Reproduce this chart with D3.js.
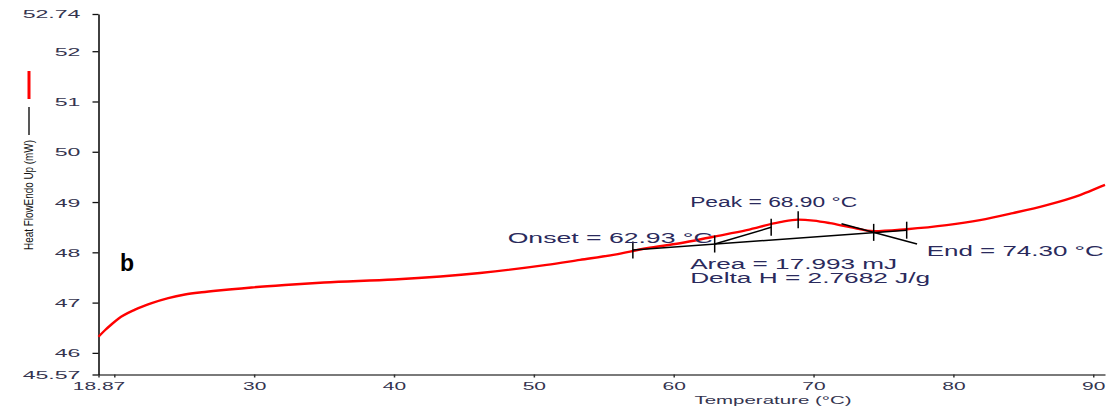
<!DOCTYPE html>
<html>
<head>
<meta charset="utf-8">
<script src="https://cdn.jsdelivr.net/npm/d3@7/dist/d3.min.js"></script>
<style>
  html, body { margin: 0; padding: 0; background: #fff; }
  svg { display: block; font-family: "Liberation Sans", Arial, sans-serif; }
</style>
</head>
<body>
<svg id="chart" width="1110" height="410"></svg>
<script>
// ---------- data ----------
const temperature = [18.87, 19.33, 19.81, 20.29, 21.48, 22.67, 23.86, 25.05, 26.25, 27.44, 28.63, 29.82, 32.2, 35.0, 40.0, 46.15, 50.92, 53.3, 55.68, 58.07, 60.45, 62.83, 65.22, 67.6, 68.9, 70.0, 71.17, 72.6, 74.32, 76.66, 79.52, 81.9, 84.26, 86.67, 89.05, 90.48, 90.84];
const heatFlow    = [46.32, 46.45, 46.57, 46.68, 46.86, 46.99, 47.09, 47.16, 47.205, 47.24, 47.27, 47.30, 47.35, 47.40, 47.46, 47.59, 47.75, 47.85, 47.95, 48.08, 48.18, 48.31, 48.44, 48.60, 48.65, 48.63, 48.58, 48.50, 48.42, 48.46, 48.54, 48.64, 48.78, 48.94, 49.14, 49.30, 49.34];

const xDomain = [18.87, 90.84];
const yDomain = [45.57, 52.74];
const xTickValues = [18.87, 20, 30, 40, 50, 60, 70, 80, 90];
const xTickLabels = ["18.87", "", "30", "40", "50", "60", "70", "80", "90"];
const yTickValues = [45.57, 46, 47, 48, 49, 50, 51, 52, 52.74];
const yTickLabels = ["45.57", "46", "47", "48", "49", "50", "51", "52", "52.74"];

// peak analysis (Pyris style)
const baselineT = [57.08, 76.66];
const baselineV = [48.046, 48.44];
const onsetTangentT = [62.93, 66.97];
const onsetTangentV = [48.165, 48.497];
const endTangentT = [72.0, 77.4];
const endTangentV = [48.568, 48.167];
const markerT = [57.08, 62.93, 66.97, 68.9, 74.3, 76.66];
const markerV = [48.046, 48.165, 48.497, 48.65, 48.397, 48.44];
const onsetLabel = "Onset = 62.93 °C";
const peakLabel = "Peak = 68.90 °C";
const endLabel = "End = 74.30 °C";
const areaLabel = "Area = 17.993 mJ";
const deltaHLabel = "Delta H = 2.7682 J/g";
const xTitle = "Temperature (°C)";
const yTitle = "Heat FlowEndo Up (mW)";
const panelLabel = "b";

// ---------- drawing ----------
const svg = d3.select("#chart");
svg.append("rect").attr("width", 1110).attr("height", 410).attr("fill", "#fff");

const x = d3.scaleLinear().domain(xDomain).range([98.5, 1105]);
const y = d3.scaleLinear().domain(yDomain).range([374.5, 14]);

const tickColor = "#34344f";
const annColor = "#2a2a5c";

// x axis
const xAxis = svg.append("g")
  .attr("transform", `translate(0,${y(yDomain[0])})`)
  .call(d3.axisBottom(x).tickValues(xTickValues)
    .tickFormat((d, i) => xTickLabels[i]).tickSize(3).tickSizeOuter(0));
xAxis.select(".domain").attr("stroke", "#7a7a7a").attr("stroke-width", 2);
xAxis.selectAll(".tick line").attr("stroke", "#333").attr("stroke-width", 1.5);
xAxis.selectAll(".tick text")
  .attr("y", 16).attr("dy", 0)
  .attr("fill", tickColor)
  .attr("font-size", 10.5)
  .attr("font-family", "Liberation Sans, Arial, sans-serif")
  .attr("transform", "scale(2.0,1)");

// y axis
const yAxis = svg.append("g")
  .attr("transform", `translate(${x(xDomain[0])},0)`)
  .call(d3.axisLeft(y).tickValues(yTickValues)
    .tickFormat((d, i) => yTickLabels[i]).tickSize(6).tickSizeOuter(0));
yAxis.select(".domain").attr("stroke", "#111").attr("stroke-width", 1.6);
yAxis.selectAll(".tick line").attr("stroke", "#111").attr("stroke-width", 1.3);
yAxis.selectAll(".tick text")
  .attr("x", -8.6).attr("dy", "0.36em")
  .attr("fill", tickColor)
  .attr("font-size", 11)
  .attr("font-family", "Liberation Sans, Arial, sans-serif")
  .attr("transform", "scale(2.1,1)");

// axis titles
svg.append("text")
  .attr("x", 773).attr("y", 403.5)
  .attr("text-anchor", "middle")
  .attr("font-size", 11.5)
  .attr("fill", tickColor)
  .attr("textLength", 157).attr("lengthAdjust", "spacingAndGlyphs")
  .text(xTitle);

svg.append("text")
  .attr("transform", "translate(33,195) rotate(-90)")
  .attr("text-anchor", "middle")
  .attr("font-size", 13)
  .attr("fill", "#111")
  .attr("textLength", 110).attr("lengthAdjust", "spacingAndGlyphs")
  .text(yTitle);

// legend sample lines next to the y title
svg.append("line").attr("x1", 29).attr("x2", 29).attr("y1", 71).attr("y2", 99)
  .attr("stroke", "#ff0000").attr("stroke-width", 3);
svg.append("line").attr("x1", 29).attr("x2", 29).attr("y1", 107).attr("y2", 135)
  .attr("stroke", "#111").attr("stroke-width", 1.4);

// red curve
const pts = temperature.map((t, i) => [t, heatFlow[i]]);
svg.append("path")
  .datum(pts)
  .attr("fill", "none")
  .attr("stroke", "#ff0000")
  .attr("stroke-width", 2.4)
  .attr("stroke-linejoin", "round")
  .attr("d", d3.line().x(d => x(d[0])).y(d => y(d[1])).curve(d3.curveMonotoneX));

// baseline and tangents
const seg = (ts, vs) => svg.append("line")
  .attr("x1", x(ts[0])).attr("y1", y(vs[0]))
  .attr("x2", x(ts[1])).attr("y2", y(vs[1]))
  .attr("stroke", "#000").attr("stroke-width", 1.5);
seg(baselineT, baselineV);
seg(onsetTangentT, onsetTangentV);
seg(endTangentT, endTangentV);

// markers
svg.selectAll(".marker").data(markerT).enter().append("line")
  .attr("class", "marker")
  .attr("x1", d => x(d)).attr("x2", d => x(d))
  .attr("y1", (d, i) => y(markerV[i]) - 8.5)
  .attr("y2", (d, i) => y(markerV[i]) + 8.5)
  .attr("stroke", "#000").attr("stroke-width", 1.5);

// annotation labels
const onsetX = x(markerT[1]), onsetY = y(markerV[1]);
const peakX = x(markerT[3]), peakY = y(markerV[3]);
const endX = x(markerT[4]), endY = y(markerV[4]);
const ann = (tx, ty, str, w, anchor) => svg.append("text")
  .attr("x", tx).attr("y", ty)
  .attr("text-anchor", anchor || "start")
  .attr("font-size", 14)
  .attr("fill", annColor)
  .attr("textLength", w).attr("lengthAdjust", "spacingAndGlyphs")
  .text(str);
ann(onsetX - 2, onsetY - 1, onsetLabel, 205, "end");
ann(peakX - 108, peakY - 12.5, peakLabel, 167);
ann(endX + 53, endY + 23.5, endLabel, 177);
ann(peakX - 108, onsetY + 25, areaLabel, 207);
ann(peakX - 108, onsetY + 39, deltaHLabel, 240);

// panel label
svg.append("text")
  .attr("x", 120).attr("y", 271)
  .attr("font-size", 23).attr("font-weight", "bold")
  .attr("fill", "#000")
  .text(panelLabel);
</script>
</body>
</html>
